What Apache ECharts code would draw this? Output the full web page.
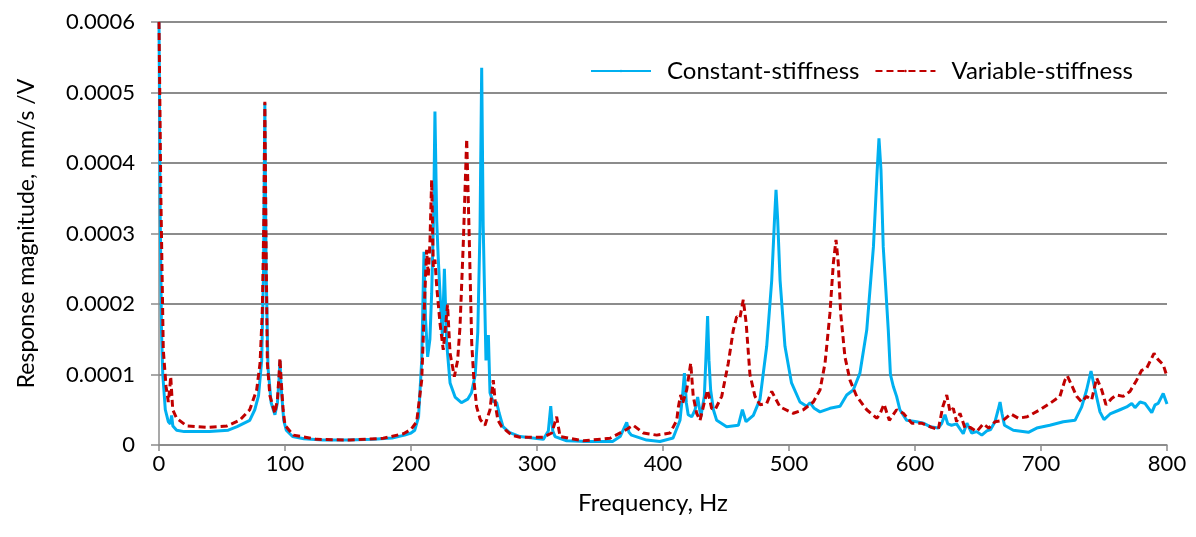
<!DOCTYPE html>
<html>
<head>
<meta charset="utf-8">
<script src="https://cdn.jsdelivr.net/npm/echarts@6/dist/echarts.min.js"></script>
<style>html,body{margin:0;padding:0;background:#fff}#c{width:1196px;height:537px}</style>
</head>
<body>
<div id="c"></div>
<script>
const xTicks = [0, 100, 200, 300, 400, 500, 600, 700, 800];
const yTicks = [0, 0.0001, 0.0002, 0.0003, 0.0004, 0.0005, 0.0006];
const seriesNames = ['Constant-stiffness', 'Variable-stiffness'];

const freqConst = [0,1,2,3,5,7.4,9,10,11,14,20,40,55,62,72,76,79,81.5,83,84,85,86.5,89,92,94,95.5,96,97,99,101,106,115,130,150,170,185,195,200,203,206,208.5,210.3,211.5,213.2,215,216.4,218,219,220.4,221.5,223,224.9,226.5,228.3,231,235,240,245,248,251,253,254.8,256.1,257.3,259.5,261.4,262.7,265,268,270,273,278,286.5,305,309,310.9,312.5,314.3,323.5,340,360,366,371.2,373,375,387,397.6,408,413.5,415.5,417,418.5,420,422.8,425.5,427.5,430,432.8,434,435.4,436.5,437.8,440,442.6,450.5,459.8,463,465.9,471.7,477,482.3,486.3,488.5,489.7,491,492.9,496.8,502,508.7,514,516.7,520,524.6,532.5,540.5,545.8,551,556.3,561.7,567,570,571.4,573,574.8,578.8,580.5,582.8,585.4,588,593.4,601.3,606.6,612,618.5,621,623.8,626,629,633,636,638.3,641.2,645,649,653,657,660,663.5,666,667.5,669,671,678,690,696.6,707,717.7,727,732.3,736.2,739.7,742.9,746.8,750,754.8,762.7,768,772,774.6,778.6,782.5,787.9,790.5,793,797,800];
const magConst = [6.0e-4,3.2e-4,1.6e-4,1.0e-4,0.5e-4,0.33e-4,0.3e-4,0.42e-4,0.27e-4,0.21e-4,0.19e-4,0.19e-4,0.21e-4,0.26e-4,0.35e-4,0.5e-4,0.7e-4,1.2e-4,2.5e-4,4.85e-4,2.5e-4,1.1e-4,0.6e-4,0.43e-4,0.6e-4,1.0e-4,1.2e-4,0.8e-4,0.35e-4,0.21e-4,0.12e-4,0.09e-4,0.07e-4,0.07e-4,0.08e-4,0.1e-4,0.14e-4,0.17e-4,0.21e-4,0.4e-4,1.2e-4,2.74e-4,1.8e-4,1.25e-4,1.5e-4,2.15e-4,3.3e-4,4.73e-4,3.19e-4,2.7e-4,2.15e-4,1.54e-4,2.5e-4,1.45e-4,0.88e-4,0.68e-4,0.6e-4,0.65e-4,0.74e-4,1.0e-4,1.6e-4,3.1e-4,5.35e-4,3.1e-4,1.2e-4,1.56e-4,0.74e-4,0.62e-4,0.6e-4,0.45e-4,0.26e-4,0.18e-4,0.12e-4,0.08e-4,0.2e-4,0.55e-4,0.2e-4,0.12e-4,0.06e-4,0.05e-4,0.05e-4,0.12e-4,0.32e-4,0.18e-4,0.14e-4,0.07e-4,0.05e-4,0.1e-4,0.35e-4,0.7e-4,1.02e-4,0.6e-4,0.43e-4,0.4e-4,0.5e-4,0.68e-4,0.4e-4,0.69e-4,1.2e-4,1.83e-4,1.2e-4,0.78e-4,0.5e-4,0.35e-4,0.26e-4,0.28e-4,0.5e-4,0.33e-4,0.42e-4,0.65e-4,1.4e-4,2.34e-4,3.2e-4,3.62e-4,3.2e-4,2.34e-4,1.4e-4,0.88e-4,0.61e-4,0.55e-4,0.6e-4,0.52e-4,0.47e-4,0.52e-4,0.55e-4,0.71e-4,0.78e-4,1.02e-4,1.63e-4,2.81e-4,3.9e-4,4.35e-4,3.9e-4,2.81e-4,1.63e-4,1.0e-4,0.83e-4,0.69e-4,0.5e-4,0.35e-4,0.33e-4,0.31e-4,0.26e-4,0.24e-4,0.3e-4,0.43e-4,0.3e-4,0.28e-4,0.3e-4,0.22e-4,0.16e-4,0.31e-4,0.17e-4,0.19e-4,0.14e-4,0.2e-4,0.22e-4,0.33e-4,0.5e-4,0.61e-4,0.45e-4,0.28e-4,0.21e-4,0.18e-4,0.24e-4,0.28e-4,0.33e-4,0.35e-4,0.54e-4,0.78e-4,1.05e-4,0.78e-4,0.47e-4,0.36e-4,0.44e-4,0.5e-4,0.54e-4,0.59e-4,0.53e-4,0.61e-4,0.59e-4,0.46e-4,0.57e-4,0.59e-4,0.73e-4,0.58e-4];

const freqVar = [0,1.5,3.4,5.6,7.4,8.5,9.3,10.9,14,22,38,54,64,72,77.5,80.2,82,83.2,84,85,86,88,92,94,95.3,96,97,98.5,100,106.6,125,151.6,178,194,200,204.5,208.5,211,212.4,213.7,215,216.4,217.7,219,220.4,223,225.6,227.5,229,231,234.4,237,238.9,241.5,244.2,246,248.2,250,252.1,255,258.7,262.7,265.3,267.2,269,272,280,286.5,305,311.7,315.6,318.3,336.8,358,370,376.4,384.4,395,405.6,410.9,412.2,414,415.6,418.8,422,424,426.7,429.4,433.3,435.4,438.6,441.3,446.6,451.8,455.8,458.5,461,463.7,466,469,473,477,482.3,486.3,492.9,503.4,511.4,519.3,524.6,528.6,532.5,535.2,537.3,539.1,541,544.4,548.4,553.7,561.7,569.6,572,575.4,579.6,585.4,590.7,597.4,605.3,613.2,618.5,622,625.2,627.8,630.4,633,635.7,639.7,643.7,649,654.2,658.5,663.5,670,676,682,689,699.2,707.1,715,719,720.9,724.3,728.3,732.3,736.2,740.2,744.2,748.2,751.6,756.1,760,765.3,770.6,775.9,779.9,783.9,789.7,793,797,800];
const magVar = [6.0e-4,3.5e-4,1.35e-4,0.83e-4,0.61e-4,0.8e-4,0.97e-4,0.5e-4,0.38e-4,0.27e-4,0.25e-4,0.27e-4,0.35e-4,0.5e-4,0.78e-4,1.16e-4,1.9e-4,3.2e-4,4.87e-4,2.8e-4,1.16e-4,0.7e-4,0.45e-4,0.65e-4,1.0e-4,1.23e-4,0.9e-4,0.5e-4,0.28e-4,0.14e-4,0.08e-4,0.07e-4,0.095e-4,0.16e-4,0.22e-4,0.33e-4,0.92e-4,2.15e-4,2.77e-4,2.39e-4,2.86e-4,3.76e-4,2.53e-4,2.63e-4,2.25e-4,1.73e-4,1.35e-4,1.7e-4,1.99e-4,1.3e-4,0.97e-4,1.2e-4,1.68e-4,2.86e-4,4.34e-4,3.1e-4,1.44e-4,0.9e-4,0.54e-4,0.36e-4,0.28e-4,0.5e-4,0.92e-4,0.54e-4,0.35e-4,0.26e-4,0.14e-4,0.11e-4,0.11e-4,0.17e-4,0.4e-4,0.12e-4,0.06e-4,0.095e-4,0.21e-4,0.28e-4,0.17e-4,0.14e-4,0.17e-4,0.35e-4,0.54e-4,0.71e-4,0.59e-4,0.78e-4,1.16e-4,0.69e-4,0.45e-4,0.35e-4,0.64e-4,0.78e-4,0.52e-4,0.5e-4,0.69e-4,1.16e-4,1.63e-4,1.82e-4,1.8e-4,2.06e-4,1.73e-4,1.0e-4,0.69e-4,0.57e-4,0.59e-4,0.76e-4,0.54e-4,0.45e-4,0.5e-4,0.61e-4,0.78e-4,1.16e-4,1.87e-4,2.58e-4,2.91e-4,2.58e-4,1.87e-4,1.25e-4,0.92e-4,0.69e-4,0.5e-4,0.38e-4,0.43e-4,0.58e-4,0.35e-4,0.5e-4,0.45e-4,0.31e-4,0.31e-4,0.25e-4,0.22e-4,0.54e-4,0.71e-4,0.47e-4,0.52e-4,0.33e-4,0.45e-4,0.24e-4,0.25e-4,0.19e-4,0.3e-4,0.24e-4,0.33e-4,0.35e-4,0.44e-4,0.38e-4,0.4e-4,0.5e-4,0.59e-4,0.69e-4,0.92e-4,0.98e-4,0.85e-4,0.69e-4,0.61e-4,0.69e-4,0.64e-4,0.95e-4,0.78e-4,0.57e-4,0.66e-4,0.71e-4,0.69e-4,0.76e-4,0.92e-4,1.06e-4,1.09e-4,1.3e-4,1.21e-4,1.14e-4,0.97e-4];

const zip = (xs, ys) => xs.map((x, i) => [x, ys[i]]);
const FONT = 'Lato';
const chart = echarts.init(document.getElementById('c'), null, {renderer: 'canvas'});
chart.setOption({
  animation: false,
  backgroundColor: '#ffffff',
  grid: {left: 159, right: 29, top: 22, bottom: 92},
  legend: {
    left: 585, top: 54,
    itemWidth: 60, itemHeight: 3, itemGap: 15,
    textStyle: {fontFamily: FONT, fontSize: 24, color: '#000', padding: [0, 0, 0, 11]},
    data: seriesNames
  },
  xAxis: {
    type: 'value', min: xTicks[0], max: xTicks[xTicks.length - 1], interval: 100,
    name: 'Frequency, Hz', nameLocation: 'middle', nameGap: 46,
    nameTextStyle: {fontFamily: FONT, fontSize: 24, color: '#000', padding: [0, 20, 0, 0]},
    axisLine: {show: true, lineStyle: {color: '#8c8c8c', width: 1.5}},
    axisTick: {show: true, length: 6, lineStyle: {color: '#8c8c8c', width: 1.5}},
    axisLabel: {fontFamily: FONT, fontSize: 22, color: '#000', margin: 8},
    splitLine: {show: false}
  },
  yAxis: {
    type: 'value', min: yTicks[0], max: yTicks[yTicks.length - 1], interval: 0.0001,
    name: 'Response magnitude, mm/s /V', nameLocation: 'middle', nameGap: 121,
    nameTextStyle: {fontFamily: FONT, fontSize: 23, color: '#000'},
    axisLine: {show: true, lineStyle: {color: '#8c8c8c', width: 1.5}},
    axisTick: {show: true, length: 8, lineStyle: {color: '#8c8c8c', width: 1.5}},
    axisLabel: {fontFamily: FONT, fontSize: 22, color: '#000', margin: 24,
      formatter: v => (v === 0 ? '0' : v.toFixed(4))},
    splitLine: {show: true, lineStyle: {color: '#8c8c8c', width: 2}}
  },
  series: [
    {
      name: seriesNames[0], type: 'line', data: zip(freqConst, magConst),
      showSymbol: false, symbol: 'none', smooth: false,
      lineStyle: {color: '#00B0F0', width: 3}, itemStyle: {color: '#00B0F0'}, z: 2
    },
    {
      name: seriesNames[1], type: 'line', data: zip(freqVar, magVar),
      showSymbol: false, symbol: 'none', smooth: false,
      lineStyle: {color: '#C00000', width: 3, type: [7, 4]}, itemStyle: {color: '#C00000'}, z: 3
    }
  ]
});
</script>
</body>
</html>
